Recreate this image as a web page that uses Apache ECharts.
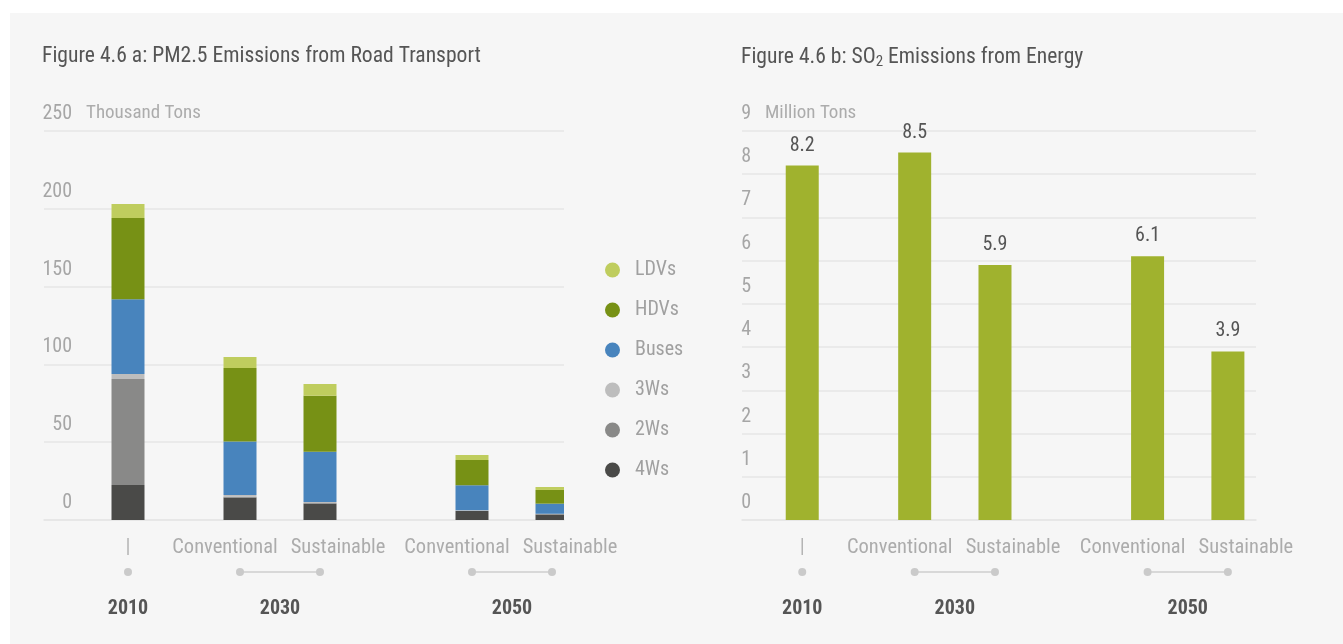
<!DOCTYPE html>
<html>
<head>
<meta charset="utf-8">
<script src="https://cdn.jsdelivr.net/npm/echarts@6/dist/echarts.min.js"></script>
<style>
html,body{margin:0;padding:0;background:#fff;}
#chart{width:1343px;height:644px;}
</style>
</head>
<body>
<div id="chart"></div>
<script>
// ---------- data ----------
const scenarios = ['|', 'Conventional', 'Sustainable', 'Conventional', 'Sustainable'];
const barYear = ['2010', '2030', '2030', '2050', '2050'];
const years = ['2010', '2030', '2050'];
const pmSeriesNames = ['4Ws', '2Ws', '3Ws', 'Buses', 'HDVs', 'LDVs'];
const pm4Ws = [22.5, 14.4, 10.5, 5.8, 3.6];
const pm2Ws = [68.1, 0.6, 0.4, 0.1, 0.1];
const pm3Ws = [3.3, 1.1, 0.7, 0.3, 0.3];
const pmBuses = [48.0, 34.3, 32.3, 16.1, 6.5];
const pmHDVs = [52.2, 47.3, 36.0, 16.3, 8.8];
const pmLDVs = [9.0, 7.1, 7.5, 3.2, 1.9];
const so2 = [8.2, 8.5, 5.9, 6.1, 3.9];
const pmTicks = [0, 50, 100, 150, 200, 250];
const so2Ticks = [0, 1, 2, 3, 4, 5, 6, 7, 8, 9];

// ---------- layout (slot grid for the category axes) ----------
const FONT = "'Roboto Condensed','Liberation Sans Narrow','Arial Narrow',Roboto,sans-serif";
const layoutL = { n: 65, slots: [10, 24, 34, 53, 63], left: 44, width: 520 };
const layoutR = { n: 64, slots: [7, 21, 31, 50, 60], left: 742, width: 514 };
const pmColors = { '4Ws': '#4a4a48', '2Ws': '#898988', '3Ws': '#bdbdbd', 'Buses': '#4884bd', 'HDVs': '#779115', 'LDVs': '#bfcd5e' };
const pmValues = { '4Ws': pm4Ws, '2Ws': pm2Ws, '3Ws': pm3Ws, 'Buses': pmBuses, 'HDVs': pmHDVs, 'LDVs': pmLDVs };

function spread(layout, vals) {
  const arr = new Array(layout.n).fill('-');
  layout.slots.forEach((s, i) => { arr[s] = vals[i]; });
  return arr;
}
function cats(layout, labels) {
  const arr = new Array(layout.n).fill('');
  layout.slots.forEach((s, i) => { arr[s] = labels[i]; });
  return arr.map((v, i) => v === '' ? '#' + i : v + '@' + i);
}
function yearCats(layout) {
  const arr = new Array(layout.n).fill('');
  years.forEach(y => {
    const ss = layout.slots.filter((s, i) => barYear[i] === y);
    const mid = Math.round(ss.reduce((a, b) => a + b, 0) / ss.length);
    arr[mid] = y;
  });
  return arr.map((v, i) => v === '' ? '#' + i : v);
}
function isBlank(v) { return typeof v === 'string' && v.charAt(0) === '#'; }
function scenLabel(v) {
  if (isBlank(v)) return '';
  const t = v.split('@')[0];
  if (t === 'Conventional') return '{c|' + t + '}';
  if (t === 'Sustainable') return '{s|' + t + '}';
  return '{d|' + t + '}';
}

const grids = [
  { left: layoutL.left, width: layoutL.width, top: 131, height: 389 },
  { left: layoutL.left, width: layoutL.width, top: 562, height: 20 },
  { left: layoutR.left, width: layoutR.width, top: 131, height: 389 },
  { left: layoutR.left, width: layoutR.width, top: 562, height: 20 }
];

function mainX(gi, layout) {
  const base = { fontFamily: FONT, fontSize: 20.5, color: '#acacac' };
  return {
    type: 'category', gridIndex: gi, data: cats(layout, scenarios),
    axisLine: { show: true, lineStyle: { color: '#e6e6e6', width: 1.5 } },
    axisTick: { show: false },
    axisLabel: {
      interval: 0, margin: 17, fontFamily: FONT, fontSize: 20.5, color: '#acacac',
      formatter: scenLabel,
      rich: {
        c: Object.assign({ padding: [0, 30, 0, 0] }, base),
        s: Object.assign({ padding: [0, 0, 0, 36] }, base),
        d: Object.assign({}, base, { color: '#b4b4b4' })
      }
    }
  };
}
function dotX(gi, layout) {
  return {
    type: 'category', gridIndex: gi, data: yearCats(layout),
    axisLine: { show: false }, axisTick: { show: false },
    axisLabel: {
      interval: 0, margin: 17, fontFamily: FONT, fontSize: 20, fontWeight: 'bold', color: '#555',
      formatter: v => isBlank(v) ? '' : v
    }
  };
}
function mainY(gi, max, interval, name, labelMargin, namePad) {
  return {
    type: 'value', gridIndex: gi, min: 0, max: max, interval: interval,
    name: name, nameLocation: 'end', nameGap: 0,
    nameTextStyle: { fontFamily: FONT, fontSize: 19, color: '#acacac', align: 'left', verticalAlign: 'bottom', padding: [0, 0, 8, namePad] },
    axisLine: { show: false }, axisTick: { show: false },
    splitLine: { show: true, lineStyle: { color: '#e6e6e6', width: 1.5 } },
    axisLabel: {
      inside: true, margin: labelMargin, align: 'right', verticalAlign: 'bottom',
      padding: [0, 0, 7, 0], fontFamily: FONT, fontSize: 20, color: '#a6a6a6'
    }
  };
}
function dotY(gi) {
  return { type: 'value', gridIndex: gi, min: -1, max: 1, show: false };
}

function dotSeries(xi, yi, layout) {
  return years.map(y => {
    const arr = new Array(layout.n).fill('-');
    layout.slots.forEach((s, i) => { if (barYear[i] === y) arr[s] = 0; });
    return {
      type: 'line', xAxisIndex: xi, yAxisIndex: yi, data: arr, connectNulls: true,
      symbol: 'circle', symbolSize: 8, showAllSymbol: true, silent: true,
      itemStyle: { color: '#cacaca' }, lineStyle: { color: '#d8d8d8', width: 2 },
      legendHoverLink: false
    };
  });
}

const series = [];
pmSeriesNames.forEach(name => {
  series.push({
    name: name, type: 'bar', stack: 'pm', xAxisIndex: 0, yAxisIndex: 0,
    barWidth: 33, data: spread(layoutL, pmValues[name]),
    itemStyle: { color: pmColors[name] }
  });
});
series.push(...dotSeries(1, 1, layoutL));
series.push({
  name: 'SO2', type: 'bar', xAxisIndex: 2, yAxisIndex: 2, barWidth: 33,
  data: spread(layoutR, so2), itemStyle: { color: '#a0b22e' },
  label: { show: true, position: 'top', distance: 10, fontFamily: FONT, fontSize: 20, color: '#555',
    formatter: p => Number(p.value).toFixed(1) }
});
series.push(...dotSeries(3, 3, layoutR));

const option = {
  backgroundColor: '#ffffff',
  animation: false,
  graphic: [{ type: 'rect', z: -10, silent: true, shape: { x: 10, y: 13, width: 1333, height: 631 }, style: { fill: '#f6f6f6' } }],
  title: [
    { text: 'Figure 4.6 a: PM2.5 Emissions from Road Transport', left: 42, top: 46, padding: 0,
      textStyle: { fontFamily: FONT, fontSize: 21.6, fontWeight: 'normal', color: '#555' } },
    { text: 'Figure 4.6 b: SO{sub|2} Emissions from Energy', left: 741, top: 46, padding: 0,
      textStyle: { fontFamily: FONT, fontSize: 21.6, fontWeight: 'normal', color: '#555',
        rich: { sub: { fontFamily: FONT, fontSize: 15, color: '#555', padding: [9, 0, 0, 0] } } } }
  ],
  legend: {
    orient: 'vertical', left: 605, top: 260, padding: 0, itemWidth: 15, itemHeight: 15, itemGap: 20,
    icon: 'circle', selectedMode: false,
    data: ['LDVs', 'HDVs', 'Buses', '3Ws', '2Ws', '4Ws'],
    textStyle: { fontFamily: FONT, fontSize: 20, color: '#a0a0a0', padding: [0, 0, 0, 10] }
  },
  grid: grids,
  xAxis: [mainX(0, layoutL), dotX(1, layoutL), mainX(2, layoutR), dotX(3, layoutR)],
  yAxis: [mainY(0, 250, 50, 'Thousand Tons', 28, 42), dotY(1), mainY(2, 9, 1, 'Million Tons', 9, 23), dotY(3)],
  series: series
};

const chart = echarts.init(document.getElementById('chart'), null, { renderer: 'canvas' });
chart.setOption(option);
</script>
</body>
</html>
